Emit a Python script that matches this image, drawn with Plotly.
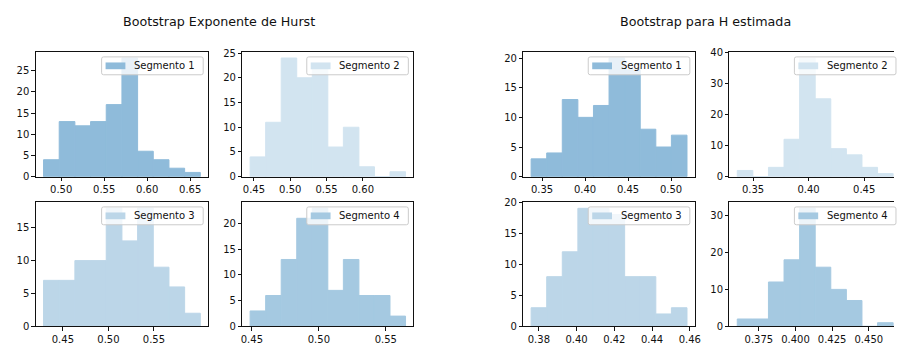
import numpy as np
import plotly.graph_objects as go

# ---------------------------------------------------------------
# Bootstrap histograms: counts per bin and the first/last bin edge
# ---------------------------------------------------------------
# Left group: Hurst exponent bootstrap
hurst_seg1_counts = [4, 13, 12, 13, 17, 28, 6, 4, 2, 1]
hurst_seg1_range = [0.4795, 0.6618]
hurst_seg2_counts = [4, 11, 24, 20, 22, 6, 10, 2, 0, 1]
hurst_seg2_range = [0.4448, 0.6587]
hurst_seg3_counts = [7, 7, 10, 10, 18, 13, 18, 9, 6, 2]
hurst_seg3_range = [0.4288, 0.6009]
hurst_seg4_counts = [3, 6, 13, 21, 23, 7, 13, 6, 6, 2]
hurst_seg4_range = [0.4487, 0.5647]

# Right group: bootstrap of the estimated H
hest_seg1_counts = [3, 4, 13, 10, 12, 20, 18, 8, 5, 7]
hest_seg1_range = [0.3373, 0.5186]
hest_seg2_counts = [2, 0, 3, 12, 38, 25, 9, 7, 3, 1]
hest_seg2_range = [0.3358, 0.4761]
hest_seg3_counts = [3, 8, 12, 19, 19, 18, 8, 8, 2, 3]
hest_seg3_range = [0.3759, 0.4585]
hest_seg4_counts = [2, 2, 12, 18, 32, 16, 10, 7, 0, 1]
hest_seg4_range = [0.3603, 0.4666]

# Tick values / labels
xt_h1 = [0.50, 0.55, 0.60, 0.65]
xt_h2 = [0.45, 0.50, 0.55, 0.60]
xt_h3 = [0.45, 0.50, 0.55]
xt_h4 = [0.45, 0.50, 0.55]
xt_e1 = [0.35, 0.40, 0.45, 0.50]
xt_e2 = [0.35, 0.40, 0.45]
xt_e3 = [0.38, 0.40, 0.42, 0.44, 0.46]
xt_e4 = [0.375, 0.400, 0.425, 0.450]
yt_h1 = [0, 5, 10, 15, 20, 25]
yt_h2 = [0, 5, 10, 15, 20, 25]
yt_h3 = [0, 5, 10, 15]
yt_h4 = [0, 5, 10, 15, 20]
yt_e1 = [0, 5, 10, 15, 20]
yt_e2 = [0, 10, 20, 30, 40]
yt_e3 = [0, 5, 10, 15, 20]
yt_e4 = [0, 10, 20, 30]

segment_labels = ["Segmento 1", "Segmento 2", "Segmento 3", "Segmento 4"]
segment_alpha = [0.5, 0.2, 0.3, 0.4]
group_titles = ["Bootstrap Exponente de Hurst", "Bootstrap para H estimada"]

# ---------------------------------------------------------------
# Layout (pixels)
# ---------------------------------------------------------------
W, H = 900, 352
COLS = [(34.0, 208.0), (242.5, 415.0), (526.0, 699.0), (734.0, 907.0)]
ROWS = [(47.7, 176.7), (203.0, 331.7)]
TITLE_POS = [(218.7, 16.0), (710.0, 16.0)]
FONT = "DejaVu Sans"
INK = "#111111"
BASE_RGB = (31, 119, 180)
LEG_W, LEG_H, LEG_PAD, LEG_R = 102.5, 18.5, 5.0, 2.0


def fx(x):
    return x / W


def fy(y):
    return 1.0 - y / H


def tinted(alpha):
    """Blue at the given opacity, flattened onto the white background."""
    r, g, b = (round(255 - alpha * (255 - c)) for c in BASE_RGB)
    return f"rgb({r},{g},{b})"


def fmt_ticks(vals):
    dec = max(len(f"{v:g}".split(".")[1]) if "." in f"{v:g}" else 0 for v in vals)
    dec = max(dec, 2)
    return [f"{v:.{dec}f}" for v in vals]


def rounded_box(x0, y0, x1, y1, r):
    pts = [
        f"M {fx(x0 + r)},{fy(y0)}",
        f"L {fx(x1 - r)},{fy(y0)}",
        f"Q {fx(x1)},{fy(y0)} {fx(x1)},{fy(y0 + r)}",
        f"L {fx(x1)},{fy(y1 - r)}",
        f"Q {fx(x1)},{fy(y1)} {fx(x1 - r)},{fy(y1)}",
        f"L {fx(x0 + r)},{fy(y1)}",
        f"Q {fx(x0)},{fy(y1)} {fx(x0)},{fy(y1 - r)}",
        f"L {fx(x0)},{fy(y0 + r)}",
        f"Q {fx(x0)},{fy(y0)} {fx(x0 + r)},{fy(y0)}",
        "Z",
    ]
    return " ".join(pts)


panels = [
    (hurst_seg1_counts, hurst_seg1_range, xt_h1, yt_h1, 0, 0, 0),
    (hurst_seg2_counts, hurst_seg2_range, xt_h2, yt_h2, 1, 1, 0),
    (hurst_seg3_counts, hurst_seg3_range, xt_h3, yt_h3, 2, 0, 1),
    (hurst_seg4_counts, hurst_seg4_range, xt_h4, yt_h4, 3, 1, 1),
    (hest_seg1_counts, hest_seg1_range, xt_e1, yt_e1, 0, 2, 0),
    (hest_seg2_counts, hest_seg2_range, xt_e2, yt_e2, 1, 3, 0),
    (hest_seg3_counts, hest_seg3_range, xt_e3, yt_e3, 2, 2, 1),
    (hest_seg4_counts, hest_seg4_range, xt_e4, yt_e4, 3, 3, 1),
]

fig = go.Figure()
layout = {}
shapes = []
annotations = []

for n, (counts, rng, xt, yt, seg, col, row) in enumerate(panels, start=1):
    color = tinted(segment_alpha[seg])
    edges = np.linspace(rng[0], rng[1], len(counts) + 1)
    centers = (edges[:-1] + edges[1:]) / 2
    widths = np.diff(edges)
    xa = "x" if n == 1 else f"x{n}"
    ya = "y" if n == 1 else f"y{n}"
    fig.add_trace(go.Bar(
        x=centers, y=counts, width=widths,
        marker=dict(color=color, line=dict(width=1, color=color)),
        name=segment_labels[seg], showlegend=False,
        xaxis=xa, yaxis=ya, hoverinfo="skip",
    ))

    x0, x1 = COLS[col]
    y0, y1 = ROWS[row]
    span = rng[1] - rng[0]
    xlim = [rng[0] - 0.05 * span, rng[1] + 0.05 * span]
    vis_x1 = min(x1, W)
    frac = (vis_x1 - x0) / (x1 - x0)
    xrange = [xlim[0], xlim[0] + frac * (xlim[1] - xlim[0])]
    clipped = x1 > W

    ytop = 1.05 * max(counts)
    if yt[-1] > ytop and yt[-1] - ytop < 0.01 * yt[-1]:
        ytop = yt[-1]

    common = dict(
        showline=True, linecolor=INK, linewidth=0.8,
        ticks="outside", ticklen=3.5, tickwidth=0.8, tickcolor=INK,
        showgrid=False, zeroline=False, fixedrange=True,
        tickfont=dict(family=FONT, size=10, color=INK),
    )
    layout["xaxis" if n == 1 else f"xaxis{n}"] = dict(
        domain=[fx(x0), fx(vis_x1)], range=xrange, anchor=ya,
        tickmode="array", tickvals=xt, ticktext=fmt_ticks(xt),
        mirror=True, **common,
    )
    layout["yaxis" if n == 1 else f"yaxis{n}"] = dict(
        domain=[fy(y1), fy(y0)], range=[0, ytop], anchor=xa,
        tickmode="array", tickvals=yt, ticktext=[str(v) for v in yt],
        mirror=not clipped, **common,
    )

    # legend box in the upper-right corner of each panel
    bx1 = x1 - LEG_PAD
    bx0 = bx1 - LEG_W
    by0 = y0 + LEG_PAD
    by1 = by0 + LEG_H
    shapes.append(dict(
        type="path", xref="paper", yref="paper",
        path=rounded_box(bx0, by0, bx1, by1, LEG_R),
        fillcolor="rgba(255,255,255,0.8)",
        line=dict(color="#cccccc", width=1), layer="above",
    ))
    hx0 = bx0 + 4.0
    hyc = (by0 + by1) / 2
    shapes.append(dict(
        type="rect", xref="paper", yref="paper",
        x0=fx(hx0), x1=fx(hx0 + 20), y0=fy(hyc + 3.5), y1=fy(hyc - 3.5),
        fillcolor=color, line=dict(width=0), layer="above",
    ))
    annotations.append(dict(
        text=segment_labels[seg], xref="paper", yref="paper",
        x=fx(hx0 + 28), y=fy(hyc), xanchor="left", yanchor="middle",
        showarrow=False, borderpad=0,
        font=dict(family=FONT, size=10, color=INK),
    ))

for title, (tx, ty) in zip(group_titles, TITLE_POS):
    annotations.append(dict(
        text=title, xref="paper", yref="paper",
        x=fx(tx), y=fy(ty), xanchor="center", yanchor="middle",
        showarrow=False, borderpad=0,
        font=dict(family=FONT, size=12.7, color=INK),
    ))

fig.update_layout(
    width=W, height=H,
    margin=dict(l=0, r=0, t=0, b=0),
    paper_bgcolor="white", plot_bgcolor="white",
    barmode="overlay",
    shapes=shapes, annotations=annotations,
    **layout,
)

fig.write_html("out.html", config={"displayModeBar": False})
